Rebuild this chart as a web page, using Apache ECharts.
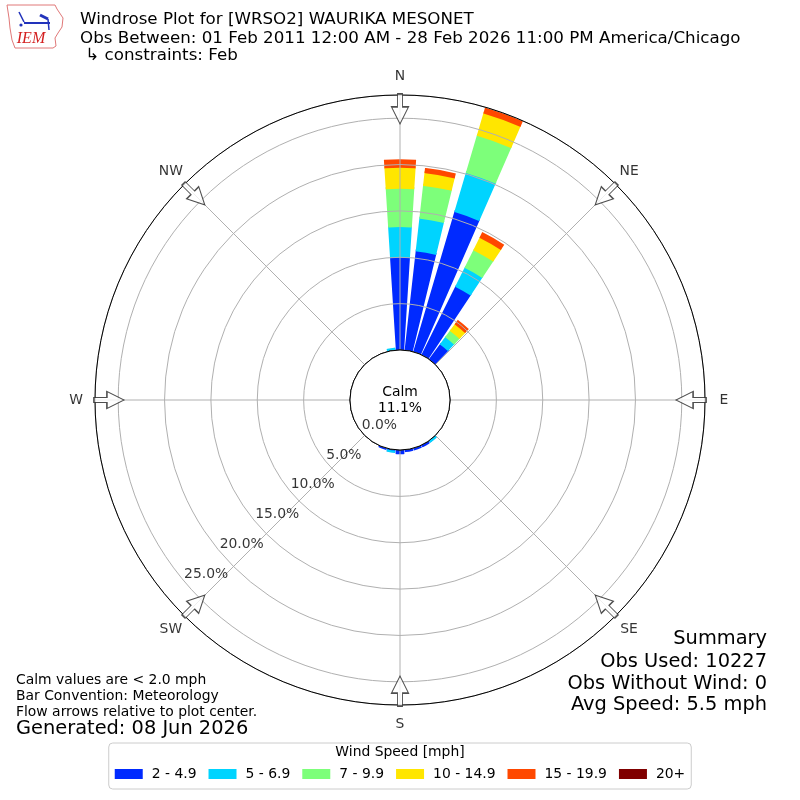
<!DOCTYPE html>
<html><head><meta charset="utf-8">
<script src="https://cdn.jsdelivr.net/npm/echarts@6/dist/echarts.min.js"></script>
<style>html,body{margin:0;padding:0;background:#fff}#c{width:800px;height:800px}</style>
</head><body><div id="c"></div>
<script>
// ---- data ----
const dirBins = ['0','10','20','30','40','50','60','70','80','90','100','110','120','130','140','150','160','170',
  '180','190','200','210','220','230','240','250','260','270','280','290','300','310','320','330','340','350'];
const speedBins = ['2 - 4.9','5 - 6.9','7 - 9.9','10 - 14.9','15 - 19.9','20+'];
const speedColors = ['#002aff','#00d4ff','#7dff7a','#ffe600','#ff4800','#800000'];
//                 0     10     20    30   40  50 60 70 80 90 100 110 120 130 140  150  160  170  180  190  200 210 ... 350
const spd2to5  = [10.05,10.84,15.82,8.30,2.10,0,0,0,0,0,0,0,0,0,0.12,0.15,0.15,0.15,0.35,0.20,0.08,0,0,0,0,0,0,0,0,0,0,0,0,0,0,0.10];
const spd5to7  = [3.31,3.54,4.39,2.28,0.95,0,0,0,0,0,0,0,0,0,0.03,0,0,0,0,0.03,0,0,0,0,0,0,0,0,0,0,0,0,0,0,0,0.08];
const spd7to10 = [4.13,3.57,4.19,2.12,0.85,0,0,0,0,0,0,0,0,0,0,0,0,0,0,0,0,0,0,0,0,0,0,0,0,0,0,0,0,0,0,0];
const spd10to15= [2.26,1.38,2.50,1.50,0.88,0,0,0,0,0,0,0,0,0,0,0,0,0,0,0,0,0,0,0,0,0,0,0,0,0,0,0,0,0,0,0];
const spd15to20= [0.72,0.34,0.45,0.46,0.38,0,0,0,0,0,0,0,0,0,0,0,0,0,0,0,0,0,0,0,0,0,0,0,0,0,0,0,0,0,0,0];
const spd20up  = [0,0,0,0,0,0,0,0,0,0,0,0,0,0,0,0,0,0,0,0,0,0,0,0,0,0,0,0,0,0,0,0,0,0,0,0];
const calmPct = 11.1;
const compassLabels = ['N','NE','E','SE','S','SW','W','NW'];
const compassAngles = [0,45,90,135,180,225,270,315];
const radiusTicks = [0,5,10,15,20,25];
const radiusTickLabels = ['0.0%','5.0%','10.0%','15.0%','20.0%','25.0%'];
const titleLines = ['Windrose Plot for [WRSO2] WAURIKA MESONET',
  'Obs Between: 01 Feb 2011 12:00 AM - 28 Feb 2026 11:00 PM America/Chicago',
  ' \u21b3 constraints: Feb'];
const noteLines = ['Calm values are < 2.0 mph','Bar Convention: Meteorology','Flow arrows relative to plot center.'];
const generatedText = 'Generated: 08 Jun 2026';
const summaryLines = ['Summary','Obs Used: 10227','Obs Without Wind: 0','Avg Speed: 5.5 mph'];
const legendTitle = 'Wind Speed [mph]';

// ---- chart ----
const FONT = '"DejaVu Sans", sans-serif';
const chart = echarts.init(document.getElementById('c'), null, {renderer:'canvas'});
const seriesData = [spd2to5, spd5to7, spd7to10, spd10to15, spd15to20, spd20up];

const barSeries = seriesData.map((arr, i) => ({
  type: 'bar', name: speedBins[i], coordinateSystem: 'polar', polarIndex: 0,
  stack: 'wind', barCategoryGap: '28%',
  data: arr.map(v => v > 0 ? v : null),
  itemStyle: {color: speedColors[i], borderColor: speedColors[i], borderWidth: 2},
  emphasis: {disabled: true}, silent: true, z: 2
}));

function txt(text, x, y, size, align, extra) {
  return Object.assign({type:'text', z: 100, silent: true,
    style: {text: text, x: x, y: y, font: size + 'px ' + FONT, fill: '#000',
      align: align, textAlign: align, verticalAlign: 'middle', textVerticalAlign: 'middle'}}, extra || {});
}

const graphics = [];
graphics.push(txt(titleLines[0], 80, 20, 16.7, 'left'));
graphics.push(txt(titleLines[1], 80, 38.5, 16.7, 'left'));
graphics.push(txt(titleLines[2], 80, 55.5, 16.7, 'left'));
graphics.push(txt(noteLines[0], 16, 680, 13.9, 'left'));
graphics.push(txt(noteLines[1], 16, 696, 13.9, 'left'));
graphics.push(txt(noteLines[2], 16, 712, 13.9, 'left'));
graphics.push(txt(generatedText, 16, 729, 19.4, 'left'));
const sumY = [639, 661.5, 683.5, 705];
summaryLines.forEach((s, i) => graphics.push(txt(s, 767, sumY[i], 19.4, 'right')));
graphics.push(txt(legendTitle, 400, 752, 13.9, 'center'));
// IEM logo (decorative)
graphics.push({type:'polyline', z: 100, silent: true,
  shape: {points: [[7,5],[55,5],[57,9],[63,18],[62,27],[58,33],[55,38],[56,46],[53,48],[15,48],[12,40],[10,28],[9,18],[7,5]]},
  style: {stroke:'#e07878', lineWidth: 1, fill: null}});
graphics.push({type:'line', z:100, silent:true, shape:{x1:24,y1:23,x2:50,y2:23}, style:{stroke:'#2233bb', lineWidth:2}});
graphics.push({type:'line', z:100, silent:true, shape:{x1:19,y1:12,x2:24,y2:22}, style:{stroke:'#2233bb', lineWidth:1.5}});
graphics.push({type:'line', z:100, silent:true, shape:{x1:40,y1:15,x2:48,y2:19}, style:{stroke:'#2233bb', lineWidth:3}});
graphics.push({type:'line', z:100, silent:true, shape:{x1:48,y1:19,x2:49,y2:30}, style:{stroke:'#2233bb', lineWidth:1.5}});
graphics.push({type:'circle', z:100, silent:true, shape:{cx:21,cy:25,r:1.6}, style:{fill:'#2233bb'}});
graphics.push({type:'text', z:100, silent:true, style:{text:'IEM', x:31, y:39, font:'italic 16px "Liberation Serif", serif',
  fill:'#d42020', align:'center', textAlign:'center', verticalAlign:'middle', textVerticalAlign:'middle'}});

const arrowPath = 'path://M6,0 L11,0 L11,13 L17,13 L8.5,30 L0,13 L6,13 Z';
const hiddenAxis = {axisLine: {show: false}, axisTick: {show: false}, axisLabel: {show: false}, splitLine: {show: false}};

const option = {
  animation: false,
  backgroundColor: '#fff',
  textStyle: {fontFamily: FONT},
  polar: [
    {center: ['50%','50%'], radius: [50, 305]},
    {center: ['50%','50%'], radius: [50, 305]},
    {center: ['50%','50%'], radius: [0, 324]}
  ],
  angleAxis: [
    Object.assign({polarIndex: 0, type: 'category', data: dirBins, startAngle: 95, clockwise: true, boundaryGap: true}, hiddenAxis),
    {polarIndex: 1, type: 'value', min: 0, max: 360, interval: 45, startAngle: 90, clockwise: true, z: 4,
      axisLine: {show: true, lineStyle: {color: '#000', width: 1}},
      axisTick: {show: false}, axisLabel: {show: false},
      splitLine: {show: true, lineStyle: {color: '#b0b0b0', width: 1}}},
    Object.assign({polarIndex: 2, type: 'value', min: 0, max: 360, startAngle: 90, clockwise: true}, hiddenAxis)
  ],
  radiusAxis: [
    Object.assign({polarIndex: 0, type: 'value', min: 0, max: 27.5}, hiddenAxis),
    {polarIndex: 1, type: 'value', min: 0, max: 27.5, interval: 5, z: 3,
      axisLine: {show: false}, axisTick: {show: false}, axisLabel: {show: false},
      splitLine: {show: true, lineStyle: {color: '#b0b0b0', width: 1}}},
    Object.assign({polarIndex: 2, type: 'value', min: 0, max: 1}, hiddenAxis)
  ],
  legend: {
    data: speedBins, left: 'center', top: 743, orient: 'horizontal',
    itemWidth: 28, itemHeight: 10, itemGap: 12, icon: 'rect',
    padding: [24, 6, 8, 6], borderColor: '#cccccc', borderWidth: 1, borderRadius: 4,
    backgroundColor: '#fff', selectedMode: false,
    itemStyle: {borderWidth: 0},
    textStyle: {fontSize: 13.9, fontFamily: FONT, color: '#000', padding: [0,0,0,4]}
  },
  graphic: graphics,
  series: barSeries.concat([
    {type: 'pie', center: ['50%','50%'], radius: [0, 50], z: 5, silent: true,
      startAngle: 90, clockwise: true,
      data: [{value: calmPct, name: 'Calm'}],
      itemStyle: {color: '#fff', borderColor: '#000', borderWidth: 1},
      label: {show: true, position: 'center', formatter: 'Calm\n' + calmPct.toFixed(1) + '%',
        fontSize: 13.9, lineHeight: 16, color: '#000', fontFamily: FONT},
      labelLine: {show: false}, emphasis: {disabled: true}},
    {type: 'scatter', coordinateSystem: 'polar', polarIndex: 1, z: 6, silent: true,
      symbol: arrowPath, symbolSize: [17, 30],
      data: compassAngles.map(a => ({value: [26.0, a], symbolRotate: -a})),
      itemStyle: {color: '#fff', borderColor: '#222', borderWidth: 1.2}},
    {type: 'scatter', coordinateSystem: 'polar', polarIndex: 2, z: 7, silent: true,
      symbolSize: 0,
      data: compassLabels.map((n, i) => ({name: n, value: [1, compassAngles[i]]})),
      label: {show: true, position: 'inside', formatter: '{b}', fontSize: 13.9, color: '#000',
        textBorderWidth: 0, fontFamily: FONT}},
    {type: 'scatter', coordinateSystem: 'polar', polarIndex: 1, z: 7, silent: true,
      symbolSize: 0,
      data: radiusTicks.map((r, i) => ({name: radiusTickLabels[i], value: [r, 230]})),
      label: {show: true, position: 'inside', align: 'left', verticalAlign: 'middle', offset: [0, -7],
        formatter: '{b}', fontSize: 13.9, color: '#000', textBorderWidth: 0, fontFamily: FONT}}
  ])
};
chart.setOption(option);
</script>
</body></html>
